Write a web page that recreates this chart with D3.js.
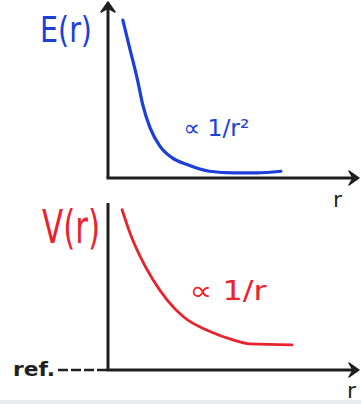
<!DOCTYPE html>
<html>
<head>
<meta charset="utf-8">
<script src="https://cdn.jsdelivr.net/npm/d3@7"></script>
<style>
  html, body { margin: 0; padding: 0; background: #fff; }
  svg { display: block; }
  text { font-family: "DejaVu Sans", sans-serif; }
</style>
</head>
<body>
<svg id="viz"></svg>
<script>
const width = 361;
const height = 404;
const svg = d3.select("#viz").attr("width", width).attr("height", height);

// values (arbitrary units, 0..10)
const fieldR = [0.6, 0.9, 1.2, 1.4, 1.7, 2.1, 2.6, 3.2, 4.1, 5.1, 6.0, 7.0];
const fieldE = [9.4, 7.6, 5.8, 4.4, 3.0, 1.9, 1.2, 0.8, 0.4, 0.3, 0.3, 0.4];
const potR = [0.57, 0.89, 1.3, 1.82, 2.39, 3.04, 4.13, 5.06, 5.75, 7.45];
const potV = [9.6, 8.2, 6.8, 5.4, 4.2, 3.2, 2.3, 1.8, 1.56, 1.5];

const axisColor = "#1f1f1f";
const blue = "#1b3fd8";
const red = "#e8232d";

// faint strip at the bottom of the scan
svg.append("rect")
  .attr("x", 0).attr("y", 400).attr("width", width).attr("height", 4)
  .attr("fill", "#e9ecec");

const x = d3.scaleLinear().domain([0, 10]).range([108, 355]);
const yTop = d3.scaleLinear().domain([0, 10]).range([178, 10]);
const yBot = d3.scaleLinear().domain([0, 10]).range([370, 203]);

function arrowHead(px, py, dir) {
  // dir: "up" or "right"
  const s = 7;
  const pts = dir === "up"
    ? [[px, py], [px - s, py + s + 3], [px, py + s - 1], [px + s, py + s + 3]]
    : [[px, py], [px - s - 3, py - s], [px - s + 1, py], [px - s - 3, py + s]];
  svg.append("path")
    .attr("d", d3.line()(pts) + "Z")
    .attr("fill", axisColor)
    .attr("stroke", axisColor)
    .attr("stroke-width", 1.5)
    .attr("stroke-linejoin", "round");
}

function axes(y, xMin, arrowTop) {
  const x0 = x(0);
  svg.append("line")
    .attr("x1", x0).attr("x2", x0)
    .attr("y1", y(0)).attr("y2", arrowTop ? y(10) - 6 : y(10))
    .attr("stroke", axisColor).attr("stroke-width", 3);
  svg.append("line")
    .attr("x1", xMin).attr("x2", x(10) + 2)
    .attr("y1", y(0)).attr("y2", y(0))
    .attr("stroke", axisColor).attr("stroke-width", 3);
  if (arrowTop) arrowHead(x0, y(10) - 8, "up");
  arrowHead(x(10) + 4, y(0), "right");
}

axes(yTop, x(0) - 1.5, true);
axes(yBot, x(0) - 1.5, false);

// reference dashes on the lower plot
svg.append("line")
  .attr("x1", 58).attr("x2", x(0))
  .attr("y1", yBot(0)).attr("y2", yBot(0))
  .attr("stroke", axisColor).attr("stroke-width", 2.5)
  .attr("stroke-dasharray", "10,3");

const lineTop = d3.line().x(d => x(d[0])).y(d => yTop(d[1])).curve(d3.curveMonotoneX);
const lineBot = d3.line().x(d => x(d[0])).y(d => yBot(d[1])).curve(d3.curveMonotoneX);

svg.append("path")
  .datum(d3.zip(fieldR, fieldE))
  .attr("d", lineTop)
  .attr("fill", "none")
  .attr("stroke", blue)
  .attr("stroke-width", 3.2)
  .attr("stroke-linecap", "round");

svg.append("path")
  .datum(d3.zip(potR, potV))
  .attr("d", lineBot)
  .attr("fill", "none")
  .attr("stroke", red)
  .attr("stroke-width", 2.8)
  .attr("stroke-linecap", "round");

// labels
svg.append("text")
  .attr("x", 40).attr("y", 42)
  .attr("font-size", 36)
  .attr("textLength", 52).attr("lengthAdjust", "spacingAndGlyphs")
  .attr("fill", blue)
  .text("E(r)");

svg.append("text")
  .attr("x", 42).attr("y", 243)
  .attr("font-size", 46)
  .attr("textLength", 58).attr("lengthAdjust", "spacingAndGlyphs")
  .attr("fill", red)
  .text("V(r)");

svg.append("text")
  .attr("x", x(3.05)).attr("y", yTop(2.5))
  .attr("font-size", 23)
  .attr("textLength", 66).attr("lengthAdjust", "spacingAndGlyphs")
  .attr("fill", blue)
  .text("∝ 1/r²");

svg.append("text")
  .attr("x", x(3.3)).attr("y", yBot(4.2))
  .attr("font-size", 27)
  .attr("textLength", 77).attr("lengthAdjust", "spacingAndGlyphs")
  .attr("fill", red)
  .text("∝ 1/r");

svg.append("text")
  .attr("x", 333).attr("y", 207)
  .attr("font-size", 22)
  .attr("fill", axisColor)
  .text("r");

svg.append("text")
  .attr("x", 347).attr("y", 398)
  .attr("font-size", 22)
  .attr("fill", axisColor)
  .text("r");

svg.append("text")
  .attr("x", 13).attr("y", 376)
  .attr("font-size", 20)
  .attr("font-weight", "bold")
  .attr("textLength", 42).attr("lengthAdjust", "spacingAndGlyphs")
  .attr("fill", axisColor)
  .text("ref.");
</script>
</body>
</html>
